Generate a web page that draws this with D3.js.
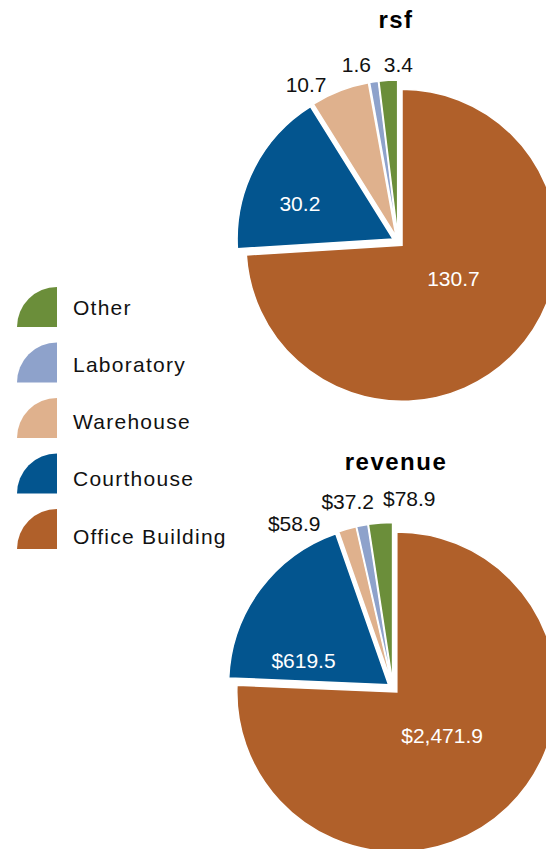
<!DOCTYPE html>
<html>
<head>
<meta charset="utf-8">
<script src="https://cdn.jsdelivr.net/npm/d3@7"></script>
<style>
body { margin: 0; background: #fff; }
svg { display: block; }
</style>
</head>
<body>
<svg id="chart" width="546" height="849"></svg>
<script>
// categories, in the order the slices run clockwise from 12 o'clock
var categories = ["Office Building", "Courthouse", "Warehouse", "Laboratory", "Other"];
var colors = ["#B0602A", "#03558F", "#DFB18D", "#8EA2CB", "#6B8E3A"];

var rsfValues = [130.7, 30.2, 10.7, 1.6, 3.4];
var rsfLabels = ["130.7", "30.2", "10.7", "1.6", "3.4"];

var revenueValues = [2471.9, 619.5, 58.9, 37.2, 78.9];
var revenueLabels = ["$2,471.9", "$619.5", "$58.9", "$37.2", "$78.9"];

var svg = d3.select("#chart");
var explode = 5.5;
var titleX = 396;

var color = d3.scaleOrdinal().domain(categories).range(colors);
var pie = d3.pie().sort(null).value(function(d) { return d.value; });

function drawPie(title, values, labels, cx, cy, radius, nudges) {
  var data = categories.map(function(c, i) {
    return { name: c, value: values[i], label: labels[i] };
  });
  var arc = d3.arc().innerRadius(0).outerRadius(radius);
  var g = svg.append("g").attr("transform", "translate(" + cx + "," + cy + ")");

  g.append("text")
    .attr("x", titleX - cx)
    .attr("y", -radius - 58)
    .attr("text-anchor", "middle")
    .attr("font-family", "Liberation Sans, Arial, sans-serif")
    .attr("font-weight", "bold")
    .attr("font-size", "24px")
    .attr("letter-spacing", "1.5px")
    .text(title);

  var arcs = pie(data);

  function off(d) {
    var a = (d.startAngle + d.endAngle) / 2;
    return [Math.sin(a) * explode, -Math.cos(a) * explode];
  }

  g.selectAll(".slice")
    .data(arcs)
    .enter()
    .append("path")
    .attr("class", "slice")
    .attr("transform", function(d) { var o = off(d); return "translate(" + o[0] + "," + o[1] + ")"; })
    .attr("d", arc)
    .attr("fill", function(d) { return color(d.data.name); })
    .attr("stroke", "#fff")
    .attr("stroke-width", 1.5);

  // labels: the two big slices inside in white, the small ones outside
  arcs.forEach(function(d, i) {
    var a = (d.startAngle + d.endAngle) / 2;
    var o = off(d);
    var n = nudges[i];
    var t = g.append("text")
      .attr("font-family", "Liberation Sans, Arial, sans-serif")
      .attr("font-size", "21px")
      .text(d.data.label);
    if (i < 2) {
      var lr = i === 0 ? radius * 0.4 : radius * 0.6;
      t.attr("x", o[0] + Math.sin(a) * lr + n[0])
        .attr("y", o[1] - Math.cos(a) * lr + n[1])
        .attr("dy", "0.36em")
        .attr("text-anchor", "middle")
        .attr("fill", "#fff");
    } else {
      var or = radius + 12;
      t.attr("x", Math.sin(a) * or + n[0])
        .attr("y", -Math.cos(a) * or + n[1])
        .attr("text-anchor", i === 4 ? "start" : "end")
        .attr("fill", "#111");
    }
  });
}

drawPie("rsf", rsfValues, rsfLabels, 398, 241.5, 156,
  [[6, -10], [-10, 7], [-11, 7], [-2, -3], [-4, -2]]);
drawPie("revenue", revenueValues, revenueLabels, 393, 688, 160,
  [[1, -3], [-8, 33], [-25, 8], [13, -10], [3, -11]]);

// legend, top to bottom: reverse of slice order
var legendItems = categories.slice().reverse();
var iconY = d3.scalePoint().domain(legendItems).range([327, 549]);
var textY = d3.scalePoint().domain(legendItems).range([307, 536]);
var iconArc = d3.arc().innerRadius(0).outerRadius(40).startAngle(-Math.PI / 2).endAngle(0);

var legend = svg.append("g");

legend.selectAll(".icon")
  .data(legendItems)
  .enter()
  .append("path")
  .attr("class", "icon")
  .attr("transform", function(d) { return "translate(57," + iconY(d) + ")"; })
  .attr("d", iconArc)
  .attr("fill", function(d) { return color(d); });

legend.selectAll(".ltext")
  .data(legendItems)
  .enter()
  .append("text")
  .attr("class", "ltext")
  .attr("x", 73)
  .attr("y", function(d) { return textY(d); })
  .attr("dy", "0.36em")
  .attr("font-family", "Liberation Sans, Arial, sans-serif")
  .attr("font-size", "21px")
  .attr("letter-spacing", "1.25px")
  .attr("fill", "#111")
  .text(function(d) { return d; });
</script>
</body>
</html>
